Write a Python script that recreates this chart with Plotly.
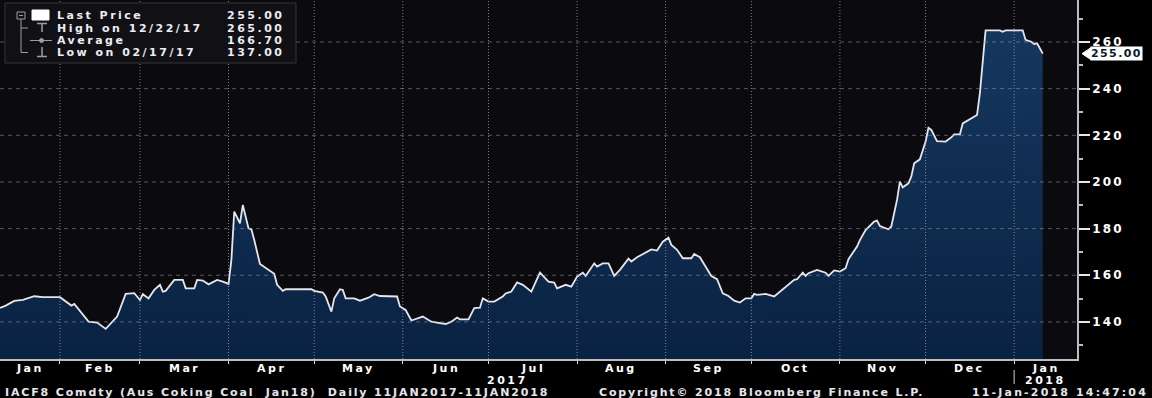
import plotly.graph_objects as go
import pandas as pd

# ---------------- data ----------------
DATES = [
    "2017-01-11", "2017-01-13", "2017-01-16", "2017-01-19", "2017-01-23", "2017-01-26",
    "2017-02-01", "2017-02-05", "2017-02-06", "2017-02-11", "2017-02-14", "2017-02-15",
    "2017-02-17", "2017-02-21", "2017-02-24", "2017-02-27",
    "2017-03-01", "2017-03-02", "2017-03-04", "2017-03-06", "2017-03-08", "2017-03-09",
    "2017-03-10", "2017-03-13", "2017-03-16", "2017-03-17", "2017-03-20", "2017-03-21",
    "2017-03-23", "2017-03-25", "2017-03-28", "2017-03-30",
    "2017-04-01", "2017-04-02", "2017-04-03", "2017-04-05", "2017-04-06", "2017-04-08",
    "2017-04-09", "2017-04-10", "2017-04-12", "2017-04-17", "2017-04-18", "2017-04-20",
    "2017-04-21", "2017-04-30",
    "2017-05-01", "2017-05-04", "2017-05-05", "2017-05-07", "2017-05-08", "2017-05-10",
    "2017-05-11", "2017-05-12", "2017-05-15", "2017-05-17", "2017-05-19", "2017-05-20",
    "2017-05-22", "2017-05-24", "2017-05-30", "2017-05-31",
    "2017-06-02", "2017-06-04", "2017-06-08", "2017-06-09", "2017-06-11", "2017-06-13",
    "2017-06-16", "2017-06-18", "2017-06-20", "2017-06-21", "2017-06-24", "2017-06-26",
    "2017-06-28", "2017-06-29",
    "2017-07-01", "2017-07-03", "2017-07-06", "2017-07-07", "2017-07-09", "2017-07-11",
    "2017-07-13", "2017-07-16", "2017-07-19", "2017-07-22", "2017-07-24", "2017-07-25",
    "2017-07-28", "2017-07-30",
    "2017-08-01", "2017-08-03", "2017-08-04", "2017-08-07", "2017-08-08", "2017-08-10",
    "2017-08-12", "2017-08-14", "2017-08-16", "2017-08-19", "2017-08-20", "2017-08-22",
    "2017-08-24", "2017-08-27", "2017-08-29", "2017-08-31",
    "2017-09-02", "2017-09-03", "2017-09-05", "2017-09-07", "2017-09-10", "2017-09-11",
    "2017-09-13", "2017-09-17", "2017-09-19", "2017-09-21", "2017-09-23", "2017-09-25",
    "2017-09-27", "2017-09-29",
    "2017-10-01", "2017-10-02", "2017-10-03", "2017-10-06", "2017-10-09", "2017-10-11",
    "2017-10-13", "2017-10-16", "2017-10-17", "2017-10-19", "2017-10-20", "2017-10-21",
    "2017-10-24", "2017-10-27", "2017-10-28", "2017-10-30",
    "2017-11-01", "2017-11-03", "2017-11-04", "2017-11-07", "2017-11-08", "2017-11-10",
    "2017-11-13", "2017-11-14", "2017-11-15", "2017-11-18", "2017-11-19", "2017-11-21",
    "2017-11-22", "2017-11-23", "2017-11-25", "2017-11-26", "2017-11-27", "2017-11-29",
    "2017-12-01", "2017-12-02", "2017-12-03", "2017-12-05", "2017-12-08", "2017-12-10",
    "2017-12-11", "2017-12-13", "2017-12-14", "2017-12-16", "2017-12-18", "2017-12-19",
    "2017-12-20", "2017-12-21", "2017-12-22", "2017-12-27", "2017-12-28", "2017-12-29",
    "2018-01-04", "2018-01-05", "2018-01-07", "2018-01-08", "2018-01-09", "2018-01-10",
    "2018-01-11",
]
PRICES = [
    146, 147, 149, 149.4, 151, 150.6,
    150.6, 147, 147.7, 140.1, 139.7, 138.7,
    137, 142.3, 152, 152.3,
    149.4, 151.9, 150.1, 153.7, 155.9, 153,
    153.3, 158, 158, 154.4, 154.4, 158,
    157.7, 156.1, 158, 157.3,
    156.3, 166.6, 187.3, 182.3, 190.1, 180.1,
    179.7, 175.1, 164.8, 160.6, 155.9, 153.3,
    154, 154,
    153.3, 152.6, 150.9, 144.4, 150.1, 154,
    153.7, 150.1, 150.1, 149.1, 149.9, 150.4,
    151.9, 151.1, 150.9, 146.6,
    145.1, 140.6, 142.3, 141.6, 140.1, 139.7,
    139.1, 140.1, 141.9, 141.1, 141.1, 145.9,
    146.1, 150.1,
    148.7, 148.7, 150.9, 152.2, 153, 156.9,
    155.9, 153, 161.1, 157.3, 156.9, 154.4,
    155.9, 155.1,
    159.4, 161.1, 159.7, 165.1, 163.7, 165.1,
    165.1, 159.7, 162.3, 167.1, 165.9, 167.7,
    169.1, 171.1, 170.6, 174.4,
    176.1, 173, 170.9, 167.3, 167.3, 169.1,
    167.7, 159.7, 158.3, 152.3, 151.1, 149.1,
    148.3, 150.1,
    150.1, 152, 151.6, 152, 150.9, 153,
    154.9, 158, 158.3, 161.1, 159.7, 160.9,
    162.3, 161.1, 159.7, 162.1,
    161.6, 163, 166.9, 172.3, 175.1, 179.4,
    183, 183.4, 181.1, 179.7, 180.9, 192.3,
    200.1, 197.7, 199.4, 202.3, 208, 209.7,
    217.3, 223.2, 222.3, 217.5, 217.3, 219.1,
    220.4, 220.4, 225.1, 226.6, 228, 228.7,
    238, 252, 265, 265, 264.4, 265,
    265, 260.9, 260.1, 259.1, 259.4, 257.3,
    255,
]

Y_TICKS = [140, 160, 180, 200, 220, 240, 260]
Y_MINOR_TICKS = [130, 150, 170, 190, 210, 230, 250, 270]
X_RANGE = ["2017-01-11", "2018-01-23"]
Y_RANGE = [124.1, 278]

LEGEND_LABELS = ["Last Price", "High on 12/22/17", "Average", "Low on 02/17/17"]
LEGEND_VALUES = ["255.00", "265.00", "166.70", "137.00"]
LAST_PRICE = 255.00
LAST_LABEL = "255.00"

FOOTER_LEFT = "IACF8 Comdty (Aus Coking Coal\u00a0\u00a0Jan18)\u00a0\u00a0Daily 11JAN2017-11JAN2018"
FOOTER_MID = "Copyright\u00a9 2018 Bloomberg Finance L.P."
FOOTER_RIGHT = "11-Jan-2018 14:47:04"

# ---------------- style / layout constants ----------------
W, H = 1152, 398
ML, MR, MT, MB = 0, 75, 0, 39
PW, PH = W - ML - MR, H - MT - MB
FONT = "DejaVu Sans"
FS = 11
LS = 2.5        # letter spacing to mimic the wide Bloomberg glyphs
LS_FOOT = 1.85
TXT = "#ececf2"
GRID_H = "rgba(150,150,165,0.55)"
GRID_V = "rgba(165,165,180,0.75)"


def sp(t, ls=LS):
    return f'<span style="letter-spacing:{ls}px">{t}</span>'


def fx(x):
    return (x - ML) / PW


def fy(y):
    return 1 - (y - MT) / PH


fig = go.Figure()
fig.add_trace(go.Scatter(
    x=pd.to_datetime(DATES), y=PRICES, mode="lines",
    line=dict(color="#e6e6ea", width=1.8),
    fill="tozeroy",
    fillgradient=dict(type="vertical", start=Y_RANGE[0], stop=max(PRICES),
                      colorscale=[[0, "#0a2242"], [1, "#15375e"]]),
    hoverinfo="skip", showlegend=False,
))

x0, x1 = pd.Timestamp(X_RANGE[0]), pd.Timestamp(X_RANGE[1])
month_starts = pd.date_range("2017-02-01", X_RANGE[1], freq="MS")

annotations = []
shapes = []

# grid lines drawn above the area fill (as in the reference)
for v in Y_TICKS:
    shapes.append(dict(type="line", xref="paper", yref="y", x0=0, x1=1, y0=v, y1=v,
                       line=dict(color=GRID_H, width=1, dash="4px,4px"), layer="above"))
for d in month_starts:
    shapes.append(dict(type="line", xref="x", yref="paper", x0=d, x1=d, y0=0, y1=1,
                       line=dict(color=GRID_V, width=1, dash="1px,2px"), layer="above"))

# month labels centred on the visible part of each month
m = pd.Timestamp("2017-01-01")
while m <= x1:
    nxt = m + pd.offsets.MonthBegin(1)
    a, b = max(m, x0), min(nxt, x1)
    mid = a + (b - a) / 2
    annotations.append(dict(x=mid, xref="x", y=0, yref="paper", yanchor="top", yshift=-1,
                            text=sp(m.strftime("%b")), showarrow=False,
                            font=dict(family=FONT, size=FS, color="#ffffff", weight="bold")))
    m = nxt

# year labels
for yr in [2017, 2018]:
    a = max(pd.Timestamp(f"{yr}-01-01"), x0)
    b = min(pd.Timestamp(f"{yr + 1}-01-01"), x1)
    mid = a + (b - a) / 2
    annotations.append(dict(x=mid, xref="x", y=0, yref="paper", yanchor="top", yshift=-13,
                            text=sp(str(yr)), showarrow=False,
                            font=dict(family=FONT, size=FS, color="#ffffff", weight="bold")))

# year separator
shapes.append(dict(type="line", xref="x", yref="paper", x0="2018-01-01", x1="2018-01-01",
                   y0=fy(370), y1=fy(384), line=dict(color="#cfcfcf", width=1)))

# footer
foot_font = dict(family=FONT, size=FS, color="#e6e6ea", weight="bold")
annotations += [
    dict(x=fx(3), xref="paper", xanchor="left", y=0, yref="paper", yanchor="top", yshift=-25,
         text=sp(FOOTER_LEFT, LS_FOOT), showarrow=False, font=foot_font),
    dict(x=fx(761), xref="paper", xanchor="center", y=0, yref="paper", yanchor="top", yshift=-25,
         text=sp(FOOTER_MID, LS_FOOT), showarrow=False, font=foot_font),
    dict(x=fx(1150), xref="paper", xanchor="right", y=0, yref="paper", yanchor="top", yshift=-25,
         text=sp(FOOTER_RIGHT, LS_FOOT + 0.3), showarrow=False, font=foot_font),
]

# legend box
shapes.append(dict(type="rect", xref="paper", yref="paper", x0=fx(5), x1=fx(296),
                   y0=fy(3), y1=fy(63), fillcolor="#111115", line=dict(color="#34343a", width=1),
                   layer="above"))
row_y = [15.5, 28, 40.5, 52.5]
ICON = "#9c9ca4"
for lab, val, ry in zip(LEGEND_LABELS, LEGEND_VALUES, row_y):
    annotations.append(dict(x=fx(55), xref="paper", xanchor="left", y=fy(ry), yref="paper",
                            yanchor="middle", text=sp(lab), showarrow=False,
                            font=dict(family=FONT, size=FS, color=TXT, weight="bold")))
    annotations.append(dict(x=fx(286), xref="paper", xanchor="right", y=fy(ry), yref="paper",
                            yanchor="middle", text=sp(val), showarrow=False,
                            font=dict(family=FONT, size=FS, color=TXT, weight="bold")))
# tree + icons
shapes += [
    dict(type="rect", xref="paper", yref="paper", x0=fx(17), x1=fx(25), y0=fy(12), y1=fy(19),
         line=dict(color=ICON, width=1), layer="above"),
    dict(type="line", xref="paper", yref="paper", x0=fx(19), x1=fx(23), y0=fy(15.5), y1=fy(15.5),
         line=dict(color=ICON, width=1), layer="above"),
    dict(type="line", xref="paper", yref="paper", x0=fx(21), x1=fx(21), y0=fy(19), y1=fy(52.5),
         line=dict(color=ICON, width=1), layer="above"),
    dict(type="line", xref="paper", yref="paper", x0=fx(21), x1=fx(28), y0=fy(52.5), y1=fy(52.5),
         line=dict(color=ICON, width=1), layer="above"),
    dict(type="line", xref="paper", yref="paper", x0=fx(21), x1=fx(28), y0=fy(28), y1=fy(28),
         line=dict(color=ICON, width=1), layer="above"),
    # last price white square
    dict(type="rect", xref="paper", yref="paper", x0=fx(32), x1=fx(49), y0=fy(10), y1=fy(20),
         fillcolor="#ffffff", line=dict(color="#ffffff", width=1), layer="above"),
    # high "T"
    dict(type="line", xref="paper", yref="paper", x0=fx(37), x1=fx(47), y0=fy(23.5), y1=fy(23.5),
         line=dict(color=ICON, width=1.5), layer="above"),
    dict(type="line", xref="paper", yref="paper", x0=fx(42), x1=fx(42), y0=fy(23.5), y1=fy(32),
         line=dict(color=ICON, width=1.5), layer="above"),
    # average line with dot
    dict(type="line", xref="paper", yref="paper", x0=fx(30), x1=fx(52), y0=fy(40.5), y1=fy(40.5),
         line=dict(color=ICON, width=1), layer="above"),
    dict(type="circle", xref="paper", yref="paper", x0=fx(39.5), x1=fx(43.5), y0=fy(38.5), y1=fy(42.5),
         fillcolor=ICON, line=dict(color=ICON, width=1), layer="above"),
    # low inverted T
    dict(type="line", xref="paper", yref="paper", x0=fx(42), x1=fx(42), y0=fy(47), y1=fy(56.5),
         line=dict(color=ICON, width=1.5), layer="above"),
    dict(type="line", xref="paper", yref="paper", x0=fx(37), x1=fx(47), y0=fy(56.5), y1=fy(56.5),
         line=dict(color=ICON, width=1.5), layer="above"),
]

# last price tag on the right axis
upx = (Y_RANGE[1] - Y_RANGE[0]) / PH  # data units per pixel
shapes.append(dict(type="path", xref="paper", yref="y",
                   path=f"M {fx(1082)},{LAST_PRICE} L {fx(1091)},{LAST_PRICE + 6 * upx} "
                        f"L {fx(1091)},{LAST_PRICE - 6 * upx} Z",
                   fillcolor="#ffffff", line=dict(color="#ffffff", width=1), layer="above"))
annotations.append(dict(x=fx(1090), xref="paper", xanchor="left", y=LAST_PRICE, yref="y",
                        yanchor="middle", text=sp(LAST_LABEL, 1.4), showarrow=False,
                        bgcolor="#ffffff", borderpad=0,
                        font=dict(family=FONT, size=FS, color="#0a1a30", weight="bold")))

fig.update_layout(
    width=W, height=H,
    margin=dict(l=ML, r=MR, t=MT, b=MB, pad=0),
    paper_bgcolor="#000000", plot_bgcolor="#0b0b0f",
    showlegend=False,
    annotations=annotations, shapes=shapes,
    xaxis=dict(type="date", range=X_RANGE, tickvals=month_starts, showticklabels=False,
               ticks="outside", ticklen=3, tickcolor="#dcdcdc", tickwidth=1,
               showgrid=False,
               showline=True, linecolor="#bdbdc2", linewidth=1.5, zeroline=False,
               fixedrange=True),
    yaxis=dict(range=Y_RANGE, side="right", tickvals=Y_TICKS,
               ticktext=[sp(str(v), 2.2) for v in Y_TICKS],
               ticks="outside", ticklen=11, tickwidth=1.5, tickcolor="#e6e6e6",
               tickfont=dict(family=FONT, size=FS + 1, color="#ffffff", weight="bold"),
               minor=dict(tickvals=Y_MINOR_TICKS, ticks="outside", ticklen=4,
                          tickcolor="#bdbdbd", showgrid=False),
               showgrid=False,
               showline=True, linecolor="#bdbdc2", linewidth=1.5, zeroline=False,
               fixedrange=True),
)

fig.write_html(
    "out.html",
    config={"displayModeBar": False},
    post_script="document.body.style.margin='0';document.body.style.background='#000';",
)
